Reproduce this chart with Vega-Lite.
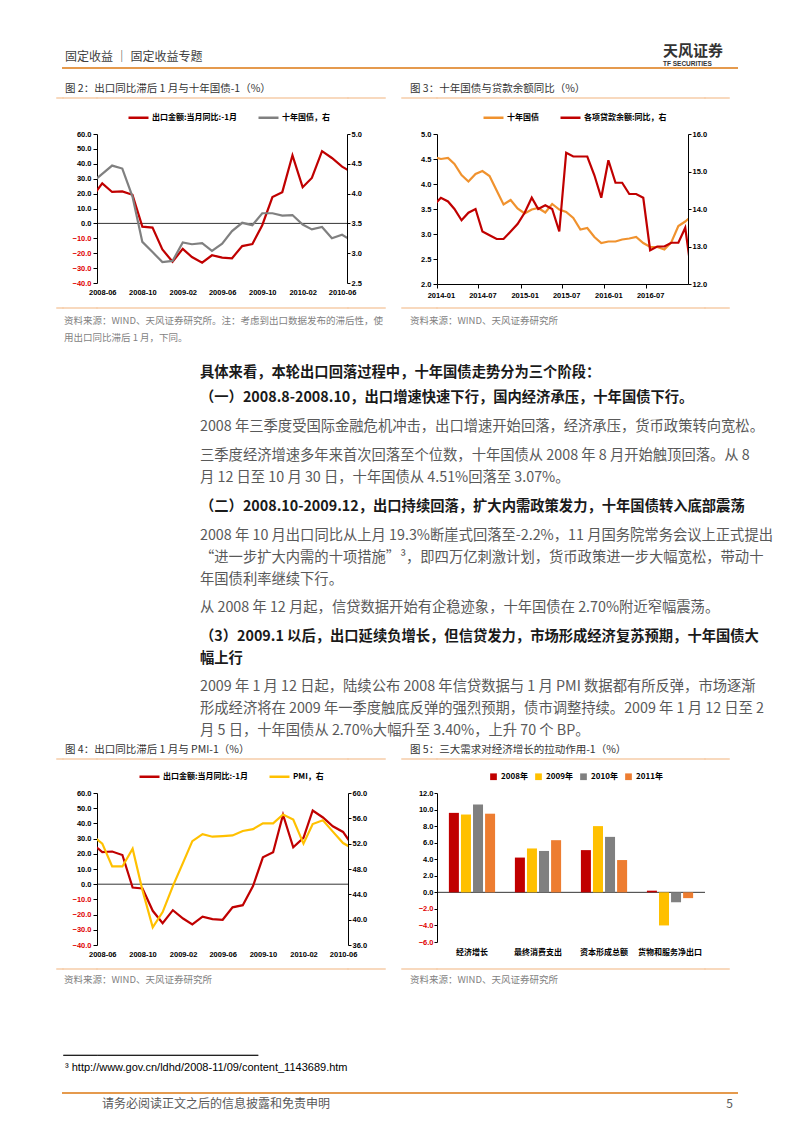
{
"$schema": "https://vega.github.io/schema/vega-lite/v6.json",
"padding": 0,
"autosize": {"type": "pad"},
"background": "white",
"columns": 10,
"spacing": 0,
"bounds": "flush",
"resolve": {"scale": {"color": "independent"}, "legend": {"color": "independent"}},
"datasets": {
"empty": [],
"c2": [{"d":"2008-05","exp":17.6,"bond":4.19},{"d":"2008-06","exp":26.9,"bond":4.33},{"d":"2008-07","exp":21.1,"bond":4.47},{"d":"2008-08","exp":21.5,"bond":4.42},{"d":"2008-09","exp":19.2,"bond":3.95},{"d":"2008-10","exp":-2.2,"bond":3.19},{"d":"2008-11","exp":-2.8,"bond":3.02},{"d":"2008-12","exp":-17.5,"bond":2.85},{"d":"2009-01","exp":-25.7,"bond":2.87},{"d":"2009-02","exp":-17.1,"bond":3.18},{"d":"2009-03","exp":-22.6,"bond":3.15},{"d":"2009-04","exp":-26.4,"bond":3.17},{"d":"2009-05","exp":-21.4,"bond":3.04},{"d":"2009-06","exp":-23.0,"bond":3.16},{"d":"2009-07","exp":-23.4,"bond":3.37},{"d":"2009-08","exp":-15.2,"bond":3.51},{"d":"2009-09","exp":-13.8,"bond":3.47},{"d":"2009-10","exp":-1.2,"bond":3.67},{"d":"2009-11","exp":17.7,"bond":3.67},{"d":"2009-12","exp":21.0,"bond":3.63},{"d":"2010-01","exp":45.7,"bond":3.64},{"d":"2010-02","exp":24.3,"bond":3.48},{"d":"2010-03","exp":30.5,"bond":3.40},{"d":"2010-04","exp":48.5,"bond":3.44},{"d":"2010-05","exp":43.9,"bond":3.25},{"d":"2010-06","exp":38.1,"bond":3.31},{"d":"2010-07","exp":34.4,"bond":3.21}],
"c3": [{"d":"2013-12","yld":4.54,"loan":14.1},{"d":"2014-01","yld":4.50,"loan":14.3},{"d":"2014-02","yld":4.52,"loan":14.2},{"d":"2014-03","yld":4.40,"loan":14.0},{"d":"2014-04","yld":4.18,"loan":13.7},{"d":"2014-05","yld":4.05,"loan":13.9},{"d":"2014-06","yld":4.20,"loan":14.0},{"d":"2014-07","yld":4.26,"loan":13.4},{"d":"2014-08","yld":4.16,"loan":13.3},{"d":"2014-09","yld":3.87,"loan":13.2},{"d":"2014-10","yld":3.59,"loan":13.2},{"d":"2014-11","yld":3.68,"loan":13.4},{"d":"2014-12","yld":3.51,"loan":13.6},{"d":"2015-01","yld":3.41,"loan":13.9},{"d":"2015-02","yld":3.49,"loan":14.3},{"d":"2015-03","yld":3.52,"loan":14.0},{"d":"2015-04","yld":3.43,"loan":14.1},{"d":"2015-05","yld":3.60,"loan":14.0},{"d":"2015-06","yld":3.49,"loan":13.4},{"d":"2015-07","yld":3.44,"loan":15.5},{"d":"2015-08","yld":3.32,"loan":15.4},{"d":"2015-09","yld":3.09,"loan":15.4},{"d":"2015-10","yld":3.12,"loan":15.4},{"d":"2015-11","yld":2.94,"loan":14.9},{"d":"2015-12","yld":2.82,"loan":14.3},{"d":"2016-01","yld":2.85,"loan":15.3},{"d":"2016-02","yld":2.85,"loan":14.7},{"d":"2016-03","yld":2.89,"loan":14.7},{"d":"2016-04","yld":2.91,"loan":14.4},{"d":"2016-05","yld":2.94,"loan":14.4},{"d":"2016-06","yld":2.82,"loan":14.3},{"d":"2016-07","yld":2.74,"loan":12.9},{"d":"2016-08","yld":2.74,"loan":13.0},{"d":"2016-09","yld":2.69,"loan":13.0},{"d":"2016-10","yld":2.83,"loan":13.1},{"d":"2016-11","yld":3.16,"loan":13.1},{"d":"2016-12","yld":3.25,"loan":13.5},{"d":"2017-01","yld":3.37,"loan":12.1}],
"c4": [{"d":"2008-05","exp":26.9,"pmi":53.3},{"d":"2008-06","exp":21.1,"pmi":52.0},{"d":"2008-07","exp":21.5,"pmi":48.4},{"d":"2008-08","exp":19.2,"pmi":48.4},{"d":"2008-09","exp":-2.2,"pmi":51.2},{"d":"2008-10","exp":-2.8,"pmi":44.6},{"d":"2008-11","exp":-17.5,"pmi":38.8},{"d":"2008-12","exp":-25.7,"pmi":41.2},{"d":"2009-01","exp":-17.1,"pmi":45.3},{"d":"2009-02","exp":-22.6,"pmi":49.0},{"d":"2009-03","exp":-26.4,"pmi":52.4},{"d":"2009-04","exp":-21.4,"pmi":53.5},{"d":"2009-05","exp":-23.0,"pmi":53.1},{"d":"2009-06","exp":-23.4,"pmi":53.2},{"d":"2009-07","exp":-15.2,"pmi":53.3},{"d":"2009-08","exp":-13.8,"pmi":54.0},{"d":"2009-09","exp":-1.2,"pmi":54.3},{"d":"2009-10","exp":17.7,"pmi":55.2},{"d":"2009-11","exp":21.0,"pmi":55.2},{"d":"2009-12","exp":45.7,"pmi":56.6},{"d":"2010-01","exp":24.3,"pmi":55.8},{"d":"2010-02","exp":30.5,"pmi":52.0},{"d":"2010-03","exp":48.5,"pmi":55.1},{"d":"2010-04","exp":43.9,"pmi":55.7},{"d":"2010-05","exp":38.1,"pmi":53.9},{"d":"2010-06","exp":34.4,"pmi":52.1},{"d":"2010-07","exp":25.1,"pmi":51.2}],
"c5": [{"cat":"经济增长","year":"2008年","v":9.6},{"cat":"经济增长","year":"2009年","v":9.4},{"cat":"经济增长","year":"2010年","v":10.6},{"cat":"经济增长","year":"2011年","v":9.5},{"cat":"最终消费支出","year":"2008年","v":4.2},{"cat":"最终消费支出","year":"2009年","v":5.3},{"cat":"最终消费支出","year":"2010年","v":5.0},{"cat":"最终消费支出","year":"2011年","v":6.3},{"cat":"资本形成总额","year":"2008年","v":5.1},{"cat":"资本形成总额","year":"2009年","v":8.0},{"cat":"资本形成总额","year":"2010年","v":6.7},{"cat":"资本形成总额","year":"2011年","v":3.9},{"cat":"货物和服务净出口","year":"2008年","v":0.2},{"cat":"货物和服务净出口","year":"2009年","v":-4.0},{"cat":"货物和服务净出口","year":"2010年","v":-1.2},{"cat":"货物和服务净出口","year":"2011年","v":-0.7}]
},
"concat": [
{"width": 57, "height": 68, "data": {"name": "empty"}, "mark": "point"},
{"width": 6, "height": 1, "data": {"name": "empty"}, "mark": "point"},
{"width": 34, "height": 1, "data": {"name": "empty"}, "mark": "point"},
{"width": 251, "height": 1, "data": {"name": "empty"}, "mark": "point"},
{"width": 37, "height": 1, "data": {"name": "empty"}, "mark": "point"},
{"width": 17, "height": 1, "data": {"name": "empty"}, "mark": "point"},
{"width": 35, "height": 1, "data": {"name": "empty"}, "mark": "point"},
{"width": 268, "height": 1, "data": {"name": "empty"}, "mark": "point"},
{"width": 24, "height": 1, "data": {"name": "empty"}, "mark": "point"},
{"width": 8, "height": 1, "data": {"name": "empty"}, "mark": "point"},

{"width": 57, "height": 30, "data": {"name": "empty"}, "mark": "point"},
{"width": 1, "height": 1, "data": {"name": "empty"}, "mark": "point"},
{"width": 34, "height": 0.01, "data": {"name": "empty"}, "mark": "point", "view": {"stroke": "#E59A4D", "strokeWidth": 2}, "title": {"text": "固定收益 ｜ 固定收益专题", "orient": "top", "offset": 4, "dx": 2, "fontSize": 12, "color": "#404040"}},
{"width": 251, "height": 0.01, "data": {"name": "empty"}, "mark": "point", "view": {"stroke": "#E59A4D", "strokeWidth": 2}},
{"width": 37, "height": 0.01, "data": {"name": "empty"}, "mark": "point", "view": {"stroke": "#E59A4D", "strokeWidth": 2}},
{"width": 17, "height": 0.01, "data": {"name": "empty"}, "mark": "point", "view": {"stroke": "#E59A4D", "strokeWidth": 2}},
{"width": 35, "height": 0.01, "data": {"name": "empty"}, "mark": "point", "view": {"stroke": "#E59A4D", "strokeWidth": 2}},
{"width": 268, "height": 0.01, "data": {"name": "empty"}, "mark": "point", "view": {"stroke": "#E59A4D", "strokeWidth": 2}, "title": {"text": "天风证券", "subtitle": "TF SECURITIES", "orient": "top", "offset": 1, "dx": 226, "fontSize": 15, "fontWeight": "bold", "color": "#333333", "subtitleFont": "Liberation Sans", "subtitleFontSize": 6.5, "subtitleFontWeight": "bold", "subtitleColor": "#333333", "subtitlePadding": 2}},
{"width": 24, "height": 0.01, "data": {"name": "empty"}, "mark": "point", "view": {"stroke": "#E59A4D", "strokeWidth": 2}},
{"width": 8, "height": 0.01, "data": {"name": "empty"}, "mark": "point", "view": {"stroke": "#E59A4D", "strokeWidth": 2}},

{"width": 57, "height": 36, "data": {"name": "empty"}, "mark": "point"},
{"width": 6, "height": 0.01, "data": {"name": "empty"}, "mark": "point", "view": {"stroke": "#F6CDA8", "strokeWidth": 1.5}, "title": {"text": "图 2：出口同比滞后 1 月与十年国债-1（%）", "orient": "top", "offset": 4, "dx": 8, "fontSize": 10.5, "color": "#333333"}},
{"width": 34, "height": 0.01, "data": {"name": "empty"}, "mark": "point", "view": {"stroke": "#F6CDA8", "strokeWidth": 1.5}},
{"width": 251, "height": 0.01, "data": {"name": "empty"}, "mark": "point", "view": {"stroke": "#F6CDA8", "strokeWidth": 1.5}},
{"width": 37, "height": 0.01, "data": {"name": "empty"}, "mark": "point", "view": {"stroke": "#F6CDA8", "strokeWidth": 1.5}},
{"width": 1, "height": 1, "data": {"name": "empty"}, "mark": "point"},
{"width": 35, "height": 0.01, "data": {"name": "empty"}, "mark": "point", "view": {"stroke": "#F6CDA8", "strokeWidth": 1.5}, "title": {"text": "图 3：十年国债与贷款余额同比（%）", "orient": "top", "offset": 4, "dx": 8, "fontSize": 10.5, "color": "#333333"}},
{"width": 268, "height": 0.01, "data": {"name": "empty"}, "mark": "point", "view": {"stroke": "#F6CDA8", "strokeWidth": 1.5}},
{"width": 24, "height": 0.01, "data": {"name": "empty"}, "mark": "point", "view": {"stroke": "#F6CDA8", "strokeWidth": 1.5}},
{"width": 1, "height": 1, "data": {"name": "empty"}, "mark": "point"},

{"width": 57, "height": 174, "data": {"name": "empty"}, "mark": "point"},
{"width": 1, "height": 1, "data": {"name": "empty"}, "mark": "point"},
{"width": 1, "height": 1, "data": {"name": "empty"}, "mark": "point"},
{"width": 250, "height": 149, "data": {"name": "c2"},
 "layer": [
  {"data": {"values": [{}]}, "mark": {"type": "rule", "color": "#000000", "strokeWidth": 0.8}, "encoding": {"y": {"datum": 0, "type": "quantitative", "scale": {"domain": [-40, 60], "nice": false, "zero": false}, "axis": null}}},
  {"mark": {"type": "line", "clip": true, "strokeWidth": 2.2},
   "encoding": {
    "x": {"field": "d", "type": "temporal", "scale": {"type": "utc", "domain": [{"year": 2008, "month": 5, "date": 16, "utc": true}, {"year": 2010, "month": 6, "date": 16, "utc": true}]}, "axis": {"title": null, "values": [{"year": 2008, "month": 6, "date": 1, "utc": true}, {"year": 2008, "month": 10, "date": 1, "utc": true}, {"year": 2009, "month": 2, "date": 1, "utc": true}, {"year": 2009, "month": 6, "date": 1, "utc": true}, {"year": 2009, "month": 10, "date": 1, "utc": true}, {"year": 2010, "month": 2, "date": 1, "utc": true}, {"year": 2010, "month": 6, "date": 1, "utc": true}], "format": "%Y-%m", "domain": false, "ticks": false, "labelPadding": 5}},
    "y": {"field": "exp", "type": "quantitative", "scale": {"domain": [-40, 60], "nice": false, "zero": false}, "axis": {"title": null, "orient": "left", "values": [-40, -30, -20, -10, 0, 10, 20, 30, 40, 50, 60], "format": ".1f", "tickSize": 4, "labelPadding": 2, "labelColor": {"condition": {"test": "datum.value < 0", "value": "#E00000"}, "value": "#000000"}}},
    "color": {"datum": "出口金额:当月同比:-1月", "type": "nominal", "scale": {"domain": ["出口金额:当月同比:-1月", "十年国债，右"], "range": ["#C00000", "#808080"]}, "legend": {"title": null, "orient": "none", "legendX": 30, "legendY": -28, "direction": "horizontal", "symbolType": "stroke", "symbolStrokeWidth": 2.5, "symbolSize": 400, "columnPadding": 16, "labelOffset": 2}}
   }},
  {"mark": {"type": "line", "clip": true, "strokeWidth": 2.2},
   "encoding": {
    "x": {"field": "d", "type": "temporal", "scale": {"type": "utc", "domain": [{"year": 2008, "month": 5, "date": 16, "utc": true}, {"year": 2010, "month": 6, "date": 16, "utc": true}]}, "axis": {"title": null, "values": [{"year": 2008, "month": 6, "date": 1, "utc": true}, {"year": 2008, "month": 10, "date": 1, "utc": true}, {"year": 2009, "month": 2, "date": 1, "utc": true}, {"year": 2009, "month": 6, "date": 1, "utc": true}, {"year": 2009, "month": 10, "date": 1, "utc": true}, {"year": 2010, "month": 2, "date": 1, "utc": true}, {"year": 2010, "month": 6, "date": 1, "utc": true}], "format": "%Y-%m", "domain": false, "ticks": false, "labelPadding": 5}},
    "y": {"field": "bond", "type": "quantitative", "scale": {"domain": [2.5, 5], "nice": false, "zero": false}, "axis": {"title": null, "orient": "right", "values": [2.5, 3, 3.5, 4, 4.5, 5], "format": ".1f", "tickSize": 3, "labelPadding": 1}},
    "color": {"datum": "十年国债，右", "type": "nominal"}
   }}
 ],
 "resolve": {"scale": {"y": "independent"}}
},
{"width": 1, "height": 1, "data": {"name": "empty"}, "mark": "point"},
{"width": 1, "height": 1, "data": {"name": "empty"}, "mark": "point"},
{"width": 1, "height": 1, "data": {"name": "empty"}, "mark": "point"},
{"width": 251, "height": 150, "data": {"name": "c3"},
 "layer": [
  {"mark": {"type": "line", "clip": true, "strokeWidth": 2.2},
   "encoding": {
    "x": {"field": "d", "type": "temporal", "scale": {"type": "utc", "domain": [{"year": 2013, "month": 12, "date": 15, "utc": true}, {"year": 2016, "month": 12, "date": 13, "utc": true}]}, "axis": {"title": null, "values": [{"year": 2014, "month": 1, "date": 1, "utc": true}, {"year": 2014, "month": 7, "date": 1, "utc": true}, {"year": 2015, "month": 1, "date": 1, "utc": true}, {"year": 2015, "month": 7, "date": 1, "utc": true}, {"year": 2016, "month": 1, "date": 1, "utc": true}, {"year": 2016, "month": 7, "date": 1, "utc": true}], "format": "%Y-%m", "domain": true, "ticks": true, "tickSize": 4, "tickOffset": -4, "labelOffset": 4, "labelPadding": 3}},
    "y": {"field": "yld", "type": "quantitative", "scale": {"domain": [2, 5], "nice": false, "zero": false}, "axis": {"title": null, "orient": "left", "values": [2, 2.5, 3, 3.5, 4, 4.5, 5], "format": ".1f", "tickSize": 4, "labelPadding": 2}},
    "color": {"datum": "十年国债", "type": "nominal", "scale": {"domain": ["十年国债", "各项贷款余额:同比，右"], "range": ["#F0922E", "#C00000"]}, "legend": {"title": null, "orient": "none", "legendX": 45, "legendY": -28, "direction": "horizontal", "symbolType": "stroke", "symbolStrokeWidth": 2.5, "symbolSize": 400, "columnPadding": 16, "labelOffset": 2}}
   }},
  {"mark": {"type": "line", "clip": true, "strokeWidth": 2.2},
   "encoding": {
    "x": {"field": "d", "type": "temporal", "scale": {"type": "utc", "domain": [{"year": 2013, "month": 12, "date": 15, "utc": true}, {"year": 2016, "month": 12, "date": 13, "utc": true}]}, "axis": {"title": null, "values": [{"year": 2014, "month": 1, "date": 1, "utc": true}, {"year": 2014, "month": 7, "date": 1, "utc": true}, {"year": 2015, "month": 1, "date": 1, "utc": true}, {"year": 2015, "month": 7, "date": 1, "utc": true}, {"year": 2016, "month": 1, "date": 1, "utc": true}, {"year": 2016, "month": 7, "date": 1, "utc": true}], "format": "%Y-%m", "domain": true, "ticks": true, "tickSize": 4, "tickOffset": -4, "labelOffset": 4, "labelPadding": 3}},
    "y": {"field": "loan", "type": "quantitative", "scale": {"domain": [12, 16], "nice": false, "zero": false}, "axis": {"title": null, "orient": "right", "values": [12, 13, 14, 15, 16], "format": ".1f", "tickSize": 3, "labelPadding": 1}},
    "color": {"datum": "各项贷款余额:同比，右", "type": "nominal"}
   }}
 ],
 "resolve": {"scale": {"y": "independent"}}
},
{"width": 1, "height": 1, "data": {"name": "empty"}, "mark": "point"},
{"width": 1, "height": 1, "data": {"name": "empty"}, "mark": "point"},

{"width": 57, "height": 72, "data": {"name": "empty"}, "mark": "point"},
{"width": 6, "height": 0.01, "data": {"name": "empty"}, "mark": "point", "view": {"stroke": "#F6CDA8", "strokeWidth": 1.5}, "title": {"text": ["资料来源：WIND、天风证券研究所。注：考虑到出口数据发布的滞后性，使", "用出口同比滞后 1 月，下同。"], "orient": "bottom", "offset": 8, "dx": 7, "fontSize": 9.5, "color": "#7F7F7F", "lineHeight": 17}},
{"width": 34, "height": 0.01, "data": {"name": "empty"}, "mark": "point", "view": {"stroke": "#F6CDA8", "strokeWidth": 1.5}},
{"width": 251, "height": 0.01, "data": {"name": "empty"}, "mark": "point", "view": {"stroke": "#F6CDA8", "strokeWidth": 1.5}},
{"width": 37, "height": 0.01, "data": {"name": "empty"}, "mark": "point", "view": {"stroke": "#F6CDA8", "strokeWidth": 1.5}},
{"width": 1, "height": 1, "data": {"name": "empty"}, "mark": "point"},
{"width": 35, "height": 0.01, "data": {"name": "empty"}, "mark": "point", "view": {"stroke": "#F6CDA8", "strokeWidth": 1.5}, "title": {"text": "资料来源：WIND、天风证券研究所", "orient": "bottom", "offset": 8, "dx": 8, "fontSize": 9.5, "color": "#7F7F7F"}},
{"width": 268, "height": 0.01, "data": {"name": "empty"}, "mark": "point", "view": {"stroke": "#F6CDA8", "strokeWidth": 1.5}},
{"width": 24, "height": 0.01, "data": {"name": "empty"}, "mark": "point", "view": {"stroke": "#F6CDA8", "strokeWidth": 1.5}},
{"width": 1, "height": 1, "data": {"name": "empty"}, "mark": "point"},

{"width": 57, "height": 25, "data": {"name": "empty"}, "mark": "point", "title": {"text": ["具体来看，本轮出口回落过程中，十年国债走势分为三个阶段："], "orient": "top", "offset": 0, "dx": 200, "fontSize": 14.3, "fontWeight": "bold", "color": "#1A1A1A", "lineHeight": 22}},
{"width": 1, "height": 1, "data": {"name": "empty"}, "mark": "point"},
{"width": 1, "height": 1, "data": {"name": "empty"}, "mark": "point"},
{"width": 1, "height": 1, "data": {"name": "empty"}, "mark": "point"},
{"width": 1, "height": 1, "data": {"name": "empty"}, "mark": "point"},
{"width": 1, "height": 1, "data": {"name": "empty"}, "mark": "point"},
{"width": 1, "height": 1, "data": {"name": "empty"}, "mark": "point"},
{"width": 1, "height": 1, "data": {"name": "empty"}, "mark": "point"},
{"width": 1, "height": 1, "data": {"name": "empty"}, "mark": "point"},
{"width": 1, "height": 1, "data": {"name": "empty"}, "mark": "point"},

{"width": 57, "height": 29, "data": {"name": "empty"}, "mark": "point", "title": {"text": ["（一）2008.8-2008.10，出口增速快速下行，国内经济承压，十年国债下行。"], "orient": "top", "offset": 0, "dx": 200, "fontSize": 14.3, "fontWeight": "bold", "color": "#1A1A1A", "lineHeight": 22}},
{"width": 1, "height": 1, "data": {"name": "empty"}, "mark": "point"},
{"width": 1, "height": 1, "data": {"name": "empty"}, "mark": "point"},
{"width": 1, "height": 1, "data": {"name": "empty"}, "mark": "point"},
{"width": 1, "height": 1, "data": {"name": "empty"}, "mark": "point"},
{"width": 1, "height": 1, "data": {"name": "empty"}, "mark": "point"},
{"width": 1, "height": 1, "data": {"name": "empty"}, "mark": "point"},
{"width": 1, "height": 1, "data": {"name": "empty"}, "mark": "point"},
{"width": 1, "height": 1, "data": {"name": "empty"}, "mark": "point"},
{"width": 1, "height": 1, "data": {"name": "empty"}, "mark": "point"},

{"width": 57, "height": 51, "data": {"name": "empty"}, "mark": "point", "title": {"text": ["2008 年三季度受国际金融危机冲击，出口增速开始回落，经济承压，货币政策转向宽松。"], "orient": "top", "offset": 0, "dx": 200, "fontSize": 14.3, "color": "#595959", "lineHeight": 22}},
{"width": 1, "height": 1, "data": {"name": "empty"}, "mark": "point"},
{"width": 1, "height": 1, "data": {"name": "empty"}, "mark": "point"},
{"width": 1, "height": 1, "data": {"name": "empty"}, "mark": "point"},
{"width": 1, "height": 1, "data": {"name": "empty"}, "mark": "point"},
{"width": 1, "height": 1, "data": {"name": "empty"}, "mark": "point"},
{"width": 1, "height": 1, "data": {"name": "empty"}, "mark": "point"},
{"width": 1, "height": 1, "data": {"name": "empty"}, "mark": "point"},
{"width": 1, "height": 1, "data": {"name": "empty"}, "mark": "point"},
{"width": 1, "height": 1, "data": {"name": "empty"}, "mark": "point"},

{"width": 57, "height": 29, "data": {"name": "empty"}, "mark": "point", "title": {"text": ["三季度经济增速多年来首次回落至个位数，十年国债从 2008 年 8 月开始触顶回落。从 8", "月 12 日至 10 月 30 日，十年国债从 4.51%回落至 3.07%。"], "orient": "top", "offset": 0, "dx": 200, "fontSize": 14.3, "color": "#595959", "lineHeight": 22}},
{"width": 1, "height": 1, "data": {"name": "empty"}, "mark": "point"},
{"width": 1, "height": 1, "data": {"name": "empty"}, "mark": "point"},
{"width": 1, "height": 1, "data": {"name": "empty"}, "mark": "point"},
{"width": 1, "height": 1, "data": {"name": "empty"}, "mark": "point"},
{"width": 1, "height": 1, "data": {"name": "empty"}, "mark": "point"},
{"width": 1, "height": 1, "data": {"name": "empty"}, "mark": "point"},
{"width": 1, "height": 1, "data": {"name": "empty"}, "mark": "point"},
{"width": 1, "height": 1, "data": {"name": "empty"}, "mark": "point"},
{"width": 1, "height": 1, "data": {"name": "empty"}, "mark": "point"},

{"width": 57, "height": 73, "data": {"name": "empty"}, "mark": "point", "title": {"text": ["（二）2008.10-2009.12，出口持续回落，扩大内需政策发力，十年国债转入底部震荡"], "orient": "top", "offset": 0, "dx": 200, "fontSize": 14.3, "fontWeight": "bold", "color": "#1A1A1A", "lineHeight": 22}},
{"width": 1, "height": 1, "data": {"name": "empty"}, "mark": "point"},
{"width": 1, "height": 1, "data": {"name": "empty"}, "mark": "point"},
{"width": 1, "height": 1, "data": {"name": "empty"}, "mark": "point"},
{"width": 1, "height": 1, "data": {"name": "empty"}, "mark": "point"},
{"width": 1, "height": 1, "data": {"name": "empty"}, "mark": "point"},
{"width": 1, "height": 1, "data": {"name": "empty"}, "mark": "point"},
{"width": 1, "height": 1, "data": {"name": "empty"}, "mark": "point"},
{"width": 1, "height": 1, "data": {"name": "empty"}, "mark": "point"},
{"width": 1, "height": 1, "data": {"name": "empty"}, "mark": "point"},

{"width": 57, "height": 28, "data": {"name": "empty"}, "mark": "point", "title": {"text": ["2008 年 10 月出口同比从上月 19.3%断崖式回落至-2.2%，11 月国务院常务会议上正式提出", "“进一步扩大内需的十项措施”³，即四万亿刺激计划，货币政策进一步大幅宽松，带动十", "年国债利率继续下行。"], "orient": "top", "offset": 0, "dx": 200, "fontSize": 14.3, "color": "#595959", "lineHeight": 22}},
{"width": 1, "height": 1, "data": {"name": "empty"}, "mark": "point"},
{"width": 1, "height": 1, "data": {"name": "empty"}, "mark": "point"},
{"width": 1, "height": 1, "data": {"name": "empty"}, "mark": "point"},
{"width": 1, "height": 1, "data": {"name": "empty"}, "mark": "point"},
{"width": 1, "height": 1, "data": {"name": "empty"}, "mark": "point"},
{"width": 1, "height": 1, "data": {"name": "empty"}, "mark": "point"},
{"width": 1, "height": 1, "data": {"name": "empty"}, "mark": "point"},
{"width": 1, "height": 1, "data": {"name": "empty"}, "mark": "point"},
{"width": 1, "height": 1, "data": {"name": "empty"}, "mark": "point"},

{"width": 57, "height": 51, "data": {"name": "empty"}, "mark": "point", "title": {"text": ["从 2008 年 12 月起，信贷数据开始有企稳迹象，十年国债在 2.70%附近窄幅震荡。"], "orient": "top", "offset": 0, "dx": 200, "fontSize": 14.3, "color": "#595959", "lineHeight": 22}},
{"width": 1, "height": 1, "data": {"name": "empty"}, "mark": "point"},
{"width": 1, "height": 1, "data": {"name": "empty"}, "mark": "point"},
{"width": 1, "height": 1, "data": {"name": "empty"}, "mark": "point"},
{"width": 1, "height": 1, "data": {"name": "empty"}, "mark": "point"},
{"width": 1, "height": 1, "data": {"name": "empty"}, "mark": "point"},
{"width": 1, "height": 1, "data": {"name": "empty"}, "mark": "point"},
{"width": 1, "height": 1, "data": {"name": "empty"}, "mark": "point"},
{"width": 1, "height": 1, "data": {"name": "empty"}, "mark": "point"},
{"width": 1, "height": 1, "data": {"name": "empty"}, "mark": "point"},

{"width": 57, "height": 72, "data": {"name": "empty"}, "mark": "point", "title": {"text": ["（3）2009.1 以后，出口延续负增长，但信贷发力，市场形成经济复苏预期，十年国债大", "幅上行"], "orient": "top", "offset": 0, "dx": 200, "fontSize": 14.3, "fontWeight": "bold", "color": "#1A1A1A", "lineHeight": 22}},
{"width": 1, "height": 1, "data": {"name": "empty"}, "mark": "point"},
{"width": 1, "height": 1, "data": {"name": "empty"}, "mark": "point"},
{"width": 1, "height": 1, "data": {"name": "empty"}, "mark": "point"},
{"width": 1, "height": 1, "data": {"name": "empty"}, "mark": "point"},
{"width": 1, "height": 1, "data": {"name": "empty"}, "mark": "point"},
{"width": 1, "height": 1, "data": {"name": "empty"}, "mark": "point"},
{"width": 1, "height": 1, "data": {"name": "empty"}, "mark": "point"},
{"width": 1, "height": 1, "data": {"name": "empty"}, "mark": "point"},
{"width": 1, "height": 1, "data": {"name": "empty"}, "mark": "point"},

{"width": 57, "height": 21, "data": {"name": "empty"}, "mark": "point", "title": {"text": ["2009 年 1 月 12 日起，陆续公布 2008 年信贷数据与 1 月 PMI 数据都有所反弹，市场逐渐", "形成经济将在 2009 年一季度触底反弹的强烈预期，债市调整持续。2009 年 1 月 12 日至 2", "月 5 日，十年国债从 2.70%大幅升至 3.40%，上升 70 个 BP。"], "orient": "top", "offset": 0, "dx": 200, "fontSize": 14.3, "color": "#595959", "lineHeight": 22}},
{"width": 1, "height": 1, "data": {"name": "empty"}, "mark": "point"},
{"width": 1, "height": 1, "data": {"name": "empty"}, "mark": "point"},
{"width": 1, "height": 1, "data": {"name": "empty"}, "mark": "point"},
{"width": 1, "height": 1, "data": {"name": "empty"}, "mark": "point"},
{"width": 1, "height": 1, "data": {"name": "empty"}, "mark": "point"},
{"width": 1, "height": 1, "data": {"name": "empty"}, "mark": "point"},
{"width": 1, "height": 1, "data": {"name": "empty"}, "mark": "point"},
{"width": 1, "height": 1, "data": {"name": "empty"}, "mark": "point"},
{"width": 1, "height": 1, "data": {"name": "empty"}, "mark": "point"},

{"width": 57, "height": 34, "data": {"name": "empty"}, "mark": "point"},
{"width": 6, "height": 0.01, "data": {"name": "empty"}, "mark": "point", "view": {"stroke": "#F6CDA8", "strokeWidth": 1.5}, "title": {"text": "图 4：出口同比滞后 1 月与 PMI-1（%）", "orient": "top", "offset": 4, "dx": 8, "fontSize": 10.5, "color": "#333333"}},
{"width": 34, "height": 0.01, "data": {"name": "empty"}, "mark": "point", "view": {"stroke": "#F6CDA8", "strokeWidth": 1.5}},
{"width": 251, "height": 0.01, "data": {"name": "empty"}, "mark": "point", "view": {"stroke": "#F6CDA8", "strokeWidth": 1.5}},
{"width": 37, "height": 0.01, "data": {"name": "empty"}, "mark": "point", "view": {"stroke": "#F6CDA8", "strokeWidth": 1.5}},
{"width": 1, "height": 1, "data": {"name": "empty"}, "mark": "point"},
{"width": 35, "height": 0.01, "data": {"name": "empty"}, "mark": "point", "view": {"stroke": "#F6CDA8", "strokeWidth": 1.5}, "title": {"text": "图 5：三大需求对经济增长的拉动作用-1（%）", "orient": "top", "offset": 4, "dx": 8, "fontSize": 10.5, "color": "#333333"}},
{"width": 268, "height": 0.01, "data": {"name": "empty"}, "mark": "point", "view": {"stroke": "#F6CDA8", "strokeWidth": 1.5}},
{"width": 24, "height": 0.01, "data": {"name": "empty"}, "mark": "point", "view": {"stroke": "#F6CDA8", "strokeWidth": 1.5}},
{"width": 1, "height": 1, "data": {"name": "empty"}, "mark": "point"},

{"width": 57, "height": 176, "data": {"name": "empty"}, "mark": "point"},
{"width": 1, "height": 1, "data": {"name": "empty"}, "mark": "point"},
{"width": 1, "height": 1, "data": {"name": "empty"}, "mark": "point"},
{"width": 251, "height": 152, "data": {"name": "c4"},
 "layer": [
  {"data": {"values": [{}]}, "mark": {"type": "rule", "color": "#000000", "strokeWidth": 0.8}, "encoding": {"y": {"datum": 0, "type": "quantitative", "scale": {"domain": [-40, 60], "nice": false, "zero": false}, "axis": null}}},
  {"mark": {"type": "line", "clip": true, "strokeWidth": 2.2},
   "encoding": {
    "x": {"field": "d", "type": "temporal", "scale": {"type": "utc", "domain": [{"year": 2008, "month": 5, "date": 16, "utc": true}, {"year": 2010, "month": 6, "date": 16, "utc": true}]}, "axis": {"title": null, "values": [{"year": 2008, "month": 6, "date": 1, "utc": true}, {"year": 2008, "month": 10, "date": 1, "utc": true}, {"year": 2009, "month": 2, "date": 1, "utc": true}, {"year": 2009, "month": 6, "date": 1, "utc": true}, {"year": 2009, "month": 10, "date": 1, "utc": true}, {"year": 2010, "month": 2, "date": 1, "utc": true}, {"year": 2010, "month": 6, "date": 1, "utc": true}], "format": "%Y-%m", "domain": false, "ticks": false, "labelPadding": 5}},
    "y": {"field": "exp", "type": "quantitative", "scale": {"domain": [-40, 60], "nice": false, "zero": false}, "axis": {"title": null, "orient": "left", "values": [-40, -30, -20, -10, 0, 10, 20, 30, 40, 50, 60], "format": ".1f", "tickSize": 4, "labelPadding": 2, "labelColor": {"condition": {"test": "datum.value < 0", "value": "#E00000"}, "value": "#000000"}}},
    "color": {"datum": "出口金额:当月同比:-1月", "type": "nominal", "scale": {"domain": ["出口金额:当月同比:-1月", "PMI，右"], "range": ["#C00000", "#FFC000"]}, "legend": {"title": null, "orient": "none", "legendX": 41, "legendY": -28, "direction": "horizontal", "symbolType": "stroke", "symbolStrokeWidth": 2.5, "symbolSize": 400, "columnPadding": 16, "labelOffset": 2}}
   }},
  {"mark": {"type": "line", "clip": true, "strokeWidth": 2.2},
   "encoding": {
    "x": {"field": "d", "type": "temporal", "scale": {"type": "utc", "domain": [{"year": 2008, "month": 5, "date": 16, "utc": true}, {"year": 2010, "month": 6, "date": 16, "utc": true}]}, "axis": {"title": null, "values": [{"year": 2008, "month": 6, "date": 1, "utc": true}, {"year": 2008, "month": 10, "date": 1, "utc": true}, {"year": 2009, "month": 2, "date": 1, "utc": true}, {"year": 2009, "month": 6, "date": 1, "utc": true}, {"year": 2009, "month": 10, "date": 1, "utc": true}, {"year": 2010, "month": 2, "date": 1, "utc": true}, {"year": 2010, "month": 6, "date": 1, "utc": true}], "format": "%Y-%m", "domain": false, "ticks": false, "labelPadding": 5}},
    "y": {"field": "pmi", "type": "quantitative", "scale": {"domain": [36, 60], "nice": false, "zero": false}, "axis": {"title": null, "orient": "right", "values": [36, 40, 44, 48, 52, 56, 60], "format": ".1f", "tickSize": 3, "labelPadding": 1}},
    "color": {"datum": "PMI，右", "type": "nominal"}
   }}
 ],
 "resolve": {"scale": {"y": "independent"}}
},
{"width": 1, "height": 1, "data": {"name": "empty"}, "mark": "point"},
{"width": 1, "height": 1, "data": {"name": "empty"}, "mark": "point"},
{"width": 1, "height": 1, "data": {"name": "empty"}, "mark": "point"},
{"width": 268, "height": 149, "data": {"name": "c5"},
 "layer": [
  {"data": {"values": [{}]}, "mark": {"type": "rule", "color": "#000000", "strokeWidth": 0.8}, "encoding": {"y": {"datum": 0, "type": "quantitative", "scale": {"domain": [-6, 12], "nice": false, "zero": false}, "axis": null}}},
  {"mark": {"type": "bar"},
   "encoding": {
    "x": {"field": "cat", "type": "nominal", "sort": ["经济增长", "最终消费支出", "资本形成总额", "货物和服务净出口"], "scale": {"paddingInner": 0.3, "paddingOuter": 0.18}, "axis": {"title": null, "labelAngle": 0, "domain": false, "ticks": false, "labelFont": "Noto Sans CJK SC", "labelFontSize": 8, "labelPadding": 6}},
    "xOffset": {"field": "year", "type": "nominal", "sort": ["2008年", "2009年", "2010年", "2011年"], "scale": {"paddingInner": 0.17}},
    "y": {"field": "v", "type": "quantitative", "scale": {"domain": [-6, 12], "nice": false, "zero": false}, "axis": {"title": null, "orient": "left", "values": [-6, -4, -2, 0, 2, 4, 6, 8, 10, 12], "format": ".1f", "tickSize": 3, "labelPadding": 1, "labelColor": {"condition": {"test": "datum.value < 0", "value": "#E00000"}, "value": "#000000"}}},
    "color": {"field": "year", "type": "nominal", "sort": ["2008年", "2009年", "2010年", "2011年"], "scale": {"domain": ["2008年", "2009年", "2010年", "2011年"], "range": ["#C00000", "#FFC000", "#808080", "#ED7D31"]}, "legend": {"title": null, "orient": "none", "legendX": 52, "legendY": -21, "direction": "horizontal", "symbolType": "square", "symbolSize": 45, "columnPadding": 6, "labelOffset": 3}}
   }}
 ],
 "resolve": {"scale": {"y": "independent"}}
},
{"width": 1, "height": 1, "data": {"name": "empty"}, "mark": "point"},
{"width": 1, "height": 1, "data": {"name": "empty"}, "mark": "point"},

{"width": 57, "height": 86, "data": {"name": "empty"}, "mark": "point"},
{"width": 6, "height": 0.01, "data": {"name": "empty"}, "mark": "point", "view": {"stroke": "#F6CDA8", "strokeWidth": 1.5}, "title": {"text": "资料来源：WIND、天风证券研究所", "orient": "bottom", "offset": 6, "dx": 7, "fontSize": 9.5, "color": "#7F7F7F"}},
{"width": 34, "height": 0.01, "data": {"name": "empty"}, "mark": "point", "view": {"stroke": "#F6CDA8", "strokeWidth": 1.5}},
{"width": 251, "height": 0.01, "data": {"name": "empty"}, "mark": "point", "view": {"stroke": "#F6CDA8", "strokeWidth": 1.5}},
{"width": 37, "height": 0.01, "data": {"name": "empty"}, "mark": "point", "view": {"stroke": "#F6CDA8", "strokeWidth": 1.5}},
{"width": 1, "height": 1, "data": {"name": "empty"}, "mark": "point"},
{"width": 35, "height": 0.01, "data": {"name": "empty"}, "mark": "point", "view": {"stroke": "#F6CDA8", "strokeWidth": 1.5}, "title": {"text": "资料来源：WIND、天风证券研究所", "orient": "bottom", "offset": 6, "dx": 8, "fontSize": 9.5, "color": "#7F7F7F"}},
{"width": 268, "height": 0.01, "data": {"name": "empty"}, "mark": "point", "view": {"stroke": "#F6CDA8", "strokeWidth": 1.5}},
{"width": 24, "height": 0.01, "data": {"name": "empty"}, "mark": "point", "view": {"stroke": "#F6CDA8", "strokeWidth": 1.5}},
{"width": 1, "height": 1, "data": {"name": "empty"}, "mark": "point"},

{"width": 57, "height": 38, "data": {"name": "empty"}, "mark": "point"},
{"width": 1, "height": 1, "data": {"name": "empty"}, "mark": "point"},
{"width": 34, "height": 0.01, "data": {"name": "empty"}, "mark": "point", "view": {"stroke": "#000000", "strokeWidth": 0.8}, "title": {"text": "³  http://www.gov.cn/ldhd/2008-11/09/content_1143689.htm", "orient": "bottom", "offset": 7, "dx": 2, "fontSize": 11, "font": "Liberation Sans", "color": "#000000"}},
{"width": 161, "height": 0.01, "data": {"name": "empty"}, "mark": "point", "view": {"stroke": "#000000", "strokeWidth": 0.8}},
{"width": 1, "height": 1, "data": {"name": "empty"}, "mark": "point"},
{"width": 1, "height": 1, "data": {"name": "empty"}, "mark": "point"},
{"width": 1, "height": 1, "data": {"name": "empty"}, "mark": "point"},
{"width": 1, "height": 1, "data": {"name": "empty"}, "mark": "point"},
{"width": 1, "height": 1, "data": {"name": "empty"}, "mark": "point"},
{"width": 1, "height": 1, "data": {"name": "empty"}, "mark": "point"},

{"width": 57, "height": 40, "data": {"name": "empty"}, "mark": "point"},
{"width": 1, "height": 1, "data": {"name": "empty"}, "mark": "point"},
{"width": 34, "height": 0.01, "data": {"name": "empty"}, "mark": "point", "view": {"stroke": "#E59A4D", "strokeWidth": 2}, "title": {"text": "请务必阅读正文之后的信息披露和免责申明", "orient": "bottom", "offset": 6, "dx": 39, "fontSize": 12, "color": "#595959"}},
{"width": 251, "height": 0.01, "data": {"name": "empty"}, "mark": "point", "view": {"stroke": "#E59A4D", "strokeWidth": 2}},
{"width": 37, "height": 0.01, "data": {"name": "empty"}, "mark": "point", "view": {"stroke": "#E59A4D", "strokeWidth": 2}},
{"width": 17, "height": 0.01, "data": {"name": "empty"}, "mark": "point", "view": {"stroke": "#E59A4D", "strokeWidth": 2}},
{"width": 35, "height": 0.01, "data": {"name": "empty"}, "mark": "point", "view": {"stroke": "#E59A4D", "strokeWidth": 2}},
{"width": 268, "height": 0.01, "data": {"name": "empty"}, "mark": "point", "view": {"stroke": "#E59A4D", "strokeWidth": 2}},
{"width": 24, "height": 0.01, "data": {"name": "empty"}, "mark": "point", "view": {"stroke": "#E59A4D", "strokeWidth": 2}},
{"width": 8, "height": 0.01, "data": {"name": "empty"}, "mark": "point", "view": {"stroke": "#E59A4D", "strokeWidth": 2}, "title": {"text": "5", "orient": "bottom", "anchor": "end", "offset": 6, "dx": -4, "fontSize": 12, "color": "#595959"}}
],
"config": {
 "view": {"stroke": null},
 "font": "Noto Sans CJK SC",
 "title": {"font": "Noto Sans CJK SC", "anchor": "start", "frame": "group", "fontWeight": "normal", "limit": 1000},
 "axis": {"labelFont": "Liberation Sans", "labelFontWeight": "bold", "labelFontSize": 7.5, "labelColor": "#000000", "domainColor": "#000000", "tickColor": "#000000", "domainWidth": 1, "tickWidth": 1, "grid": false, "labelOverlap": false, "labelFlush": false},
 "legend": {"labelFont": "Noto Sans CJK SC", "labelFontSize": 8, "labelFontWeight": "bold", "labelColor": "#000000", "padding": 0, "labelLimit": 300}
}
}
